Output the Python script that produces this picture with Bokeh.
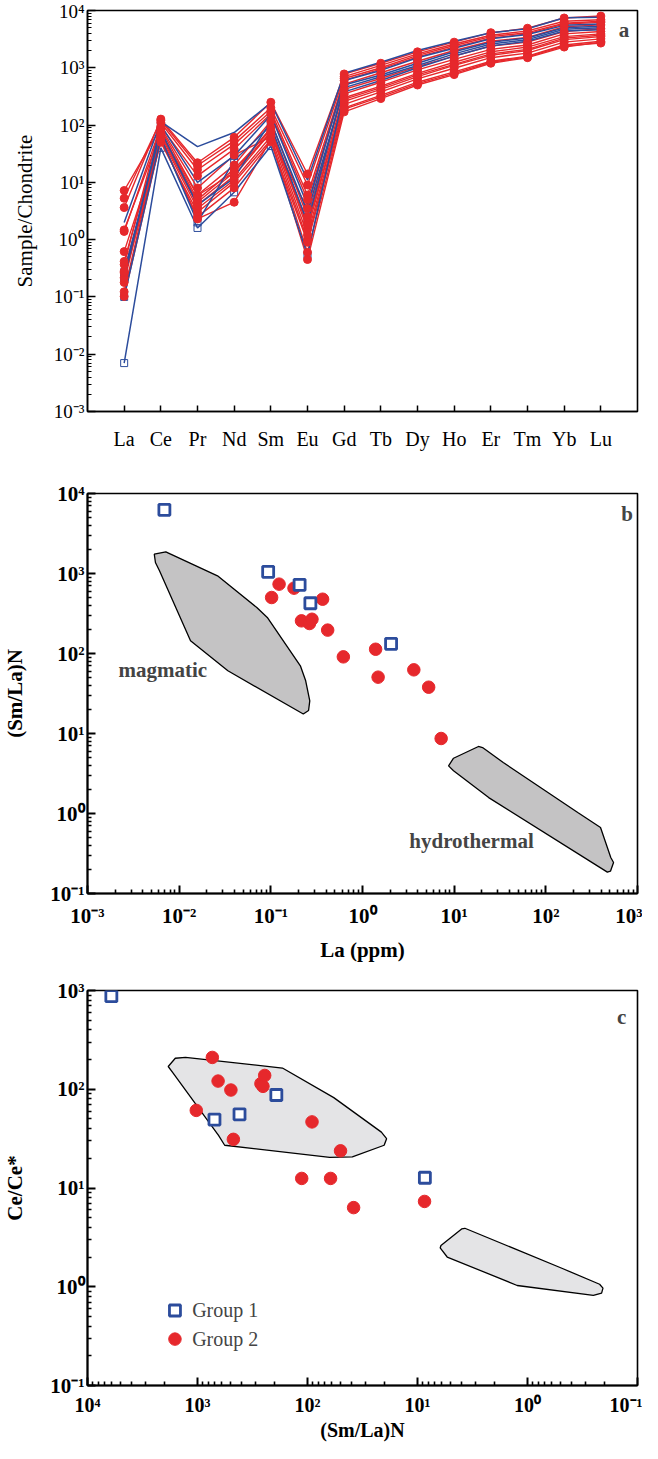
import math
from bokeh.plotting import figure
from bokeh.models import Range1d, FixedTicker, Label, CustomJSTickFormatter
from bokeh.layouts import column
from bokeh.embed import file_html
from bokeh.resources import INLINE

# ---------------- data ----------------
ree = ["La", "Ce", "Pr", "Nd", "Sm", "Eu", "Gd", "Tb", "Dy", "Ho", "Er", "Tm", "Yb", "Lu"]

# panel a: chondrite-normalised patterns (one row per sample, columns follow `ree`)
group1_ree = [
    [0.007, 40, 1.6, 6.7, 43, 0.54, 380, 600, 1000, 1600, 2400, 2900, 4400, 4600],
    [0.10, 60, 2.0, 24, 98, 2.0, 500, 750, 1200, 1900, 2800, 3300, 5000, 5300],
    [0.21, 100, 10, 29, 150, 4.0, 600, 900, 1500, 2200, 3200, 3800, 5500, 5800],
    [0.27, 80, 4.0, 12, 115, 3.0, 450, 700, 1100, 1750, 2600, 3100, 4700, 5000],
    [2.0, 115, 42, 74, 245, 11, 800, 1250, 2000, 2900, 4100, 4800, 7500, 7600],
]
group1_marked = [True, True, True, True, False]
group2_ree = [
    [0.102, 55, 2.5, 8, 51, 0.9, 200, 330, 560, 850, 1300, 1600, 2500, 2900],
    [0.123, 70, 4.5, 15, 90, 1.5, 300, 480, 800, 1250, 1900, 2300, 3500, 3900],
    [0.179, 85, 6, 20, 117, 2.5, 420, 650, 1050, 1600, 2400, 2800, 4300, 4800],
    [0.216, 50, 3, 10, 55, 0.45, 170, 290, 500, 760, 1200, 1500, 2300, 2800],
    [0.264, 60, 3.5, 11, 63, 1.0, 230, 380, 640, 980, 1500, 1800, 2800, 3200],
    [0.281, 65, 4, 13, 75, 1.2, 260, 420, 700, 1100, 1650, 2000, 3100, 3500],
    [0.367, 110, 16.6, 46, 175, 6, 600, 950, 1550, 2300, 3300, 3900, 5800, 6200],
    [0.417, 75, 5, 17, 82, 2, 350, 560, 920, 1400, 2100, 2500, 3900, 4300],
    [0.618, 58, 2.3, 4.5, 56, 0.6, 190, 310, 530, 800, 1250, 1550, 2400, 2700],
    [1.39, 95, 13, 38, 157, 5, 520, 820, 1300, 2000, 2900, 3400, 5200, 5600],
    [1.48, 72, 5.9, 15, 75, 1.8, 280, 450, 750, 1150, 1750, 2100, 3300, 3700],
    [3.63, 127, 22, 61, 250, 14, 780, 1200, 1900, 2800, 4100, 4900, 7400, 8000],
    [5.27, 120, 19.7, 53, 200, 9, 700, 1100, 1750, 2600, 3700, 4400, 6500, 6900],
    [7.21, 90, 8, 30, 62, 3.5, 650, 1000, 1650, 2450, 3500, 4100, 6000, 6500],
]

# panel b: La (ppm) vs (Sm/La)N
g1_la_ppm = [0.0069, 0.0935, 0.206, 0.27, 2.05]
g1_smla_b = [6250, 1050, 722, 425, 132]
g2_la_ppm = [0.102, 0.123, 0.179, 0.216, 0.264, 0.281, 0.367, 0.417, 0.618, 1.39, 1.48, 3.63, 5.27, 7.21]
g2_smla_b = [501, 736, 656, 256, 237, 268, 477, 196, 90.8, 113, 50.6, 62.5, 37.9, 8.66]
magmatic_la = [0.00535, 0.00715, 0.0262, 0.0703, 0.0915, 0.21, 0.24, 0.266, 0.258, 0.226, 0.034, 0.0133, 0.0061, 0.00551]
magmatic_smla = [1743, 1867, 936, 376, 282, 70.2, 45.6, 25.6, 19.4, 17.5, 60.8, 144, 1081, 1372]
hydro_la = [8.69, 9.84, 18.4, 20.4, 34.3, 223, 395, 511, 548, 507, 469, 23.8, 9.84]
hydro_smla = [3.94, 4.91, 6.88, 6.68, 4.34, 1.03, 0.668, 0.282, 0.244, 0.19, 0.185, 1.58, 3.42]

# panel c: (Sm/La)N vs Ce/Ce*
g1_smla_c = [6070, 701, 415, 192, 8.57]
g1_cece = [877, 49.3, 55.7, 87.5, 12.7]
g2_smla_c = [733, 650, 497, 1026, 472, 265, 254, 245, 91, 50.1, 112.9, 61.7, 38.1, 8.63]
g2_cece = [210, 121, 98.2, 61.1, 31.1, 114, 107, 138, 46.7, 23.8, 12.5, 12.5, 6.33, 7.31]
field1_smla = [1846, 1592, 1285, 169, 57.7, 21.3, 19.1, 20.1, 39.1, 62.8, 566, 644, 1665]
field1_cece = [170, 206, 210, 164, 82.3, 36.8, 31.6, 27.1, 20.7, 20.4, 27.1, 34.1, 146]
field2_smla = [6.22, 5.37, 1.24, 0.252, 0.212, 0.206, 0.221, 0.481, 3.71, 3.97, 4.93, 6.12]
field2_cece = [2.47, 2.0, 1.03, 0.819, 0.863, 0.969, 1.06, 1.53, 3.91, 3.85, 3.18, 2.62]

legend_labels = ["Group 1", "Group 2"]

# ---------------- style ----------------
FONT = "Liberation Serif"
RED = "#E6282C"
BLUE = "#2C4C9C"

POW_JS = """
const s = {"-": "\u207b", "0": "\u2070", "1": "\u00b9", "2": "\u00b2", "3": "\u00b3",
           "4": "\u2074", "5": "\u2075", "6": "\u2076", "7": "\u2077", "8": "\u2078", "9": "\u2079"};
const e = Math.round(Math.log10(tick));
return "10" + String(e).split("").map(c => s[c]).join("");
"""


def log_ticker(lo, hi):
    majors = [10.0 ** k for k in range(lo, hi + 1)]
    minors = [m * 10.0 ** k for k in range(lo, hi) for m in range(2, 10)]
    return FixedTicker(ticks=majors, minor_ticks=minors)


def style_axis(ax, bold, fs, lw):
    ax.major_label_text_font = FONT
    ax.major_label_text_font_size = fs
    ax.major_label_text_font_style = "bold" if bold else "normal"
    ax.major_label_text_color = "black"
    ax.axis_label_text_font = FONT
    ax.axis_label_text_font_style = "bold" if bold else "normal"
    ax.axis_label_text_color = "black"
    ax.major_tick_out = 0
    ax.major_tick_in = 8
    ax.minor_tick_out = 0
    ax.minor_tick_in = 4
    ax.axis_line_width = lw
    ax.major_tick_line_width = lw
    ax.minor_tick_line_width = lw * 0.8
    ax.axis_line_color = "black"
    ax.major_tick_line_color = "black"
    ax.minor_tick_line_color = "black"


def base_fig(**kw):
    p = figure(output_backend="svg", toolbar_location=None, **kw)
    p.xgrid.visible = False
    p.ygrid.visible = False
    p.outline_line_color = "black"
    p.outline_line_width = 1.6
    p.background_fill_color = "white"
    p.border_fill_color = "white"
    return p


# ---------------- panel a ----------------
pa = base_fig(width=642, height=462, x_range=Range1d(0, 15), y_range=Range1d(1e-3, 1e4),
              y_axis_type="log", min_border_left=76, min_border_right=5,
              min_border_top=10, min_border_bottom=51)
xpos = [i + 1 for i in range(len(ree))]
pa.xaxis.ticker = FixedTicker(ticks=xpos, minor_ticks=[])
pa.xaxis.major_label_overrides = {x: name for x, name in zip(xpos, ree)}
pa.yaxis.ticker = log_ticker(-3, 4)
pa.yaxis.formatter = CustomJSTickFormatter(code=POW_JS)
style_axis(pa.xaxis[0], False, "20px", 1.5)
style_axis(pa.yaxis[0], False, "19px", 1.5)
pa.xaxis.major_tick_in = 6
pa.xaxis.major_label_standoff = 16
pa.yaxis.major_label_standoff = 3
pa.yaxis.axis_label = "Sample/Chondrite"
pa.yaxis.axis_label_text_font_size = "21px"
pa.yaxis.axis_label_standoff = 14

for row, marked in zip(group1_ree, group1_marked):
    if marked:
        pa.scatter(xpos, row, marker="square", size=7, line_color=BLUE, fill_color=None, line_width=1)
for row in group2_ree:
    pa.line(xpos, row, line_color=RED, line_width=1.4)
for row in group1_ree:
    pa.line(xpos, row, line_color=BLUE, line_width=1.5)
for row in group2_ree:
    pa.scatter(xpos, row, marker="circle", size=8, color=RED)

pa.add_layout(Label(x=14.63, y=4650, text="a", text_font=FONT, text_font_size="21px",
                    text_font_style="bold", text_align="center", text_baseline="middle"))

# ---------------- panel b ----------------
pb = base_fig(width=642, height=505, x_range=Range1d(1e-3, 1e3), y_range=Range1d(1e-1, 1e4),
              x_axis_type="log", y_axis_type="log", min_border_left=76, min_border_right=5,
              min_border_top=31, min_border_bottom=74)
pb.xaxis.ticker = log_ticker(-3, 3)
pb.yaxis.ticker = log_ticker(-1, 4)
pb.xaxis.formatter = CustomJSTickFormatter(code=POW_JS)
pb.yaxis.formatter = CustomJSTickFormatter(code=POW_JS)
style_axis(pb.xaxis[0], True, "21px", 2)
style_axis(pb.yaxis[0], True, "21px", 2)
pb.xaxis.major_label_standoff = 10
pb.yaxis.major_label_standoff = 3
pb.xaxis.axis_label = "La (ppm)"
pb.xaxis.axis_label_text_font_size = "21px"
pb.xaxis.axis_label_standoff = 7
pb.yaxis.axis_label = "(Sm/La)N"
pb.yaxis.axis_label_text_font_size = "21px"
pb.yaxis.axis_label_standoff = 20

pb.patch(magmatic_la, magmatic_smla, fill_color="#C4C3C4", line_color="black", line_width=1.3)
pb.patch(hydro_la, hydro_smla, fill_color="#C4C3C4", line_color="black", line_width=1.3)
pb.scatter(g2_la_ppm, g2_smla_b, marker="circle", size=12.5, color=RED)
pb.scatter(g1_la_ppm, g1_smla_b, marker="square", size=11, line_color=BLUE, fill_color="white", line_width=2.8)

pb.add_layout(Label(x=0.00218, y=63, text="magmatic", text_font=FONT, text_font_size="21px",
                    text_font_style="bold", text_align="left", text_baseline="middle"))
pb.add_layout(Label(x=3.24, y=0.447, text="hydrothermal", text_font=FONT, text_font_size="21px",
                    text_font_style="bold", text_align="left", text_baseline="middle"))
pb.add_layout(Label(x=771, y=5464, text="b", text_font=FONT, text_font_size="21px",
                    text_font_style="bold", text_align="center", text_baseline="middle"))

# ---------------- panel c ----------------
pc = base_fig(width=642, height=476, x_range=Range1d(1e4, 1e-1), y_range=Range1d(1e-1, 1e3),
              x_axis_type="log", y_axis_type="log", min_border_left=73, min_border_right=5,
              min_border_top=23, min_border_bottom=55)
pc.xaxis.ticker = log_ticker(-1, 4)
pc.yaxis.ticker = log_ticker(-1, 3)
pc.xaxis.formatter = CustomJSTickFormatter(code=POW_JS)
pc.yaxis.formatter = CustomJSTickFormatter(code=POW_JS)
style_axis(pc.xaxis[0], True, "20px", 2)
style_axis(pc.yaxis[0], True, "21px", 2)
pc.xaxis.major_label_standoff = 8
pc.yaxis.major_label_standoff = 3
pc.xaxis.axis_label = "(Sm/La)N"
pc.xaxis.axis_label_text_font_size = "20px"
pc.xaxis.axis_label_standoff = 0
pc.yaxis.axis_label = "Ce/Ce*"
pc.yaxis.axis_label_text_font_size = "21px"
pc.yaxis.axis_label_standoff = 20

pc.patch(field1_smla, field1_cece, fill_color="#E4E4E6", line_color="black", line_width=1.3)
pc.patch(field2_smla, field2_cece, fill_color="#E4E4E6", line_color="black", line_width=1.3)
pc.scatter(g2_smla_c, g2_cece, marker="circle", size=12.5, color=RED)
pc.scatter(g1_smla_c, g1_cece, marker="square", size=11, line_color=BLUE, fill_color="white", line_width=2.8)

# legend
pc.scatter([1603], [0.575], marker="square", size=11, line_color=BLUE, fill_color="white", line_width=2.8)
pc.scatter([1603], [0.295], marker="circle", size=12.5, color=RED)
pc.add_layout(Label(x=1119, y=0.575, text=legend_labels[0], text_font=FONT, text_font_size="20px",
                    text_align="left", text_baseline="middle"))
pc.add_layout(Label(x=1119, y=0.295, text=legend_labels[1], text_font=FONT, text_font_size="20px",
                    text_align="left", text_baseline="middle"))
pc.add_layout(Label(x=0.139, y=538, text="c", text_font=FONT, text_font_size="21px",
                    text_font_style="bold", text_align="center", text_baseline="middle"))

layout = column(pa, pb, pc)
with open("out.html", "w", encoding="utf-8") as f:
    f.write(file_html(layout, INLINE))
